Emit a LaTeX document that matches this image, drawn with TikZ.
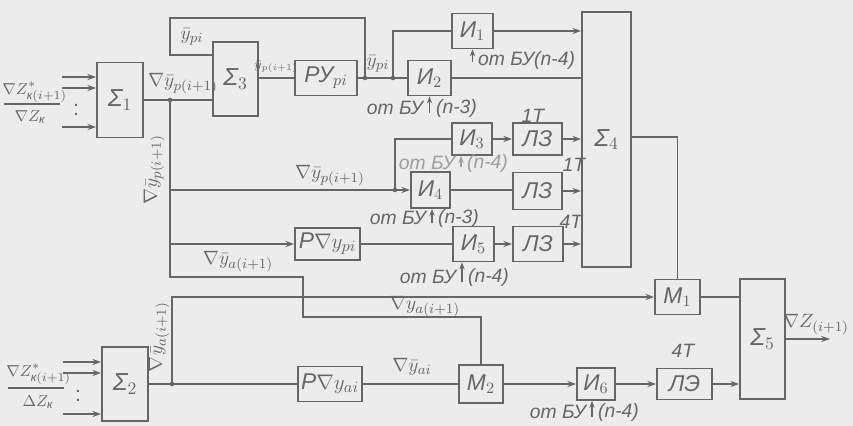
\documentclass[tikz,border=0pt]{standalone}
\usepackage{amsmath}
\usepackage{fontspec}
\setmainfont{Liberation Sans}
\usepackage{tikz}
\usetikzlibrary{arrows.meta}
\definecolor{ink}{gray}{0.40}
\definecolor{faintink}{gray}{0.62}
\definecolor{paper}{gray}{0.925}
\tikzset{
  unitbox/.style={draw=ink,line width=1pt,inner sep=0pt,text=ink,
    minimum width=0.82cm,minimum height=0.7cm,font=\fontsize{13}{14}\selectfont\itshape},
  delaybox/.style={unitbox,minimum width=0.98cm,minimum height=0.64cm},
  sumbox/.style={unitbox,minimum width=0.92cm,font=\fontsize{14}{15}\selectfont\itshape},
  signalline/.style={draw=ink,line width=0.9pt},
  signalarrow/.style={signalline,-{Stealth[length=5pt,width=3.5pt]}},
  controlarrow/.style={signalline,-{Stealth[length=4pt,width=3pt]}},
  blocklabel/.style={font=\fontsize{11}{12}\selectfont\itshape,text=ink,inner sep=1pt},
  inputlabel/.style={blocklabel,font=\fontsize{9.5}{10}\selectfont\itshape,inner sep=0pt},
  junction/.style={fill=ink}
}
\begin{document}
\begin{tikzpicture}[x=0.02cm,y=-0.02cm]
  \fill[paper] (0,0) rectangle (853,426);
  \useasboundingbox (0,0) rectangle (853,426);
  % upper chain
  \node[sumbox,minimum height=1.5cm] (s1) at (120,100) {Σ$_1$};
  \node[sumbox,minimum width=0.9cm,minimum height=1.48cm] (s3) at (235.5,79) {Σ$_3$};
  \node[unitbox,minimum width=1.24cm] (ry) at (326,78) {РУ$_{pi}$};
  \node[unitbox] (i1) at (472.5,31) {И$_1$};
  \node[unitbox,minimum width=0.86cm] (i2) at (429.5,78) {И$_2$};
  \node[sumbox,minimum width=0.98cm,minimum height=5.1cm] (s4) at (606.5,139.5) {Σ$_4$};
  \node[unitbox,minimum width=0.8cm,minimum height=0.64cm] (i3) at (472,139) {И$_3$};
  \node[delaybox] (lz1) at (537.5,139) {ЛЗ};
  \node[unitbox,minimum width=0.78cm,minimum height=0.72cm] (i4) at (430.5,190) {И$_4$};
  \node[delaybox,minimum height=0.74cm] (lz2) at (537.5,191) {ЛЗ};
  \node[unitbox,minimum width=1.3cm,minimum height=0.64cm] (pyp) at (327.5,244) {P$\nabla y_{pi}$};
  \node[unitbox] (i5) at (473.5,244) {И$_5$};
  \node[delaybox,minimum width=1cm,minimum height=0.7cm] (lz3) at (538,244) {ЛЗ};
  % lower chain
  \node[sumbox,minimum height=1.48cm] (s2) at (125,384) {Σ$_2$};
  \node[unitbox,minimum width=1.28cm] (pya) at (330,384) {P$\nabla y_{ai}$};
  \node[unitbox,minimum width=0.88cm,minimum height=0.76cm] (m2) at (481,384) {M$_2$};
  \node[unitbox,minimum width=0.76cm,minimum height=0.64cm] (i6) at (596,384) {И$_6$};
  \node[delaybox,minimum width=1.1cm,minimum height=0.62cm] (le) at (684.5,384) {ЛЭ};
  \node[unitbox,minimum width=0.9cm] (m1) at (677.5,297) {M$_1$};
  \node[sumbox,minimum width=0.9cm,minimum height=2.4cm] (s5) at (762.5,339) {Σ$_5$};

  % branch points and free ends
  \coordinate (j1) at (170,100);
  \coordinate (jf) at (365,78);
  \coordinate (j2) at (393,78);
  \coordinate (j3) at (170,190);
  \coordinate (j4) at (395,190);
  \coordinate (j5) at (170,244);
  \coordinate (j6) at (172,384);
  \coordinate (z1a) at (62,77);
  \coordinate (z1b) at (62,88);
  \coordinate (z1k) at (62,127);
  \coordinate (z2a) at (63,362);
  \coordinate (z2b) at (63,373);
  \coordinate (z2k) at (63,414);
  \coordinate (zout) at (830,339);
  \coordinate (bu1) at (472.5,62);
  \coordinate (bu2) at (429.5,113);
  \coordinate (bu3) at (461,167);
  \coordinate (bu4) at (432,223);
  \coordinate (bu5) at (462,282);
  \coordinate (bu6) at (592,417);

  % inputs
  \draw[signalarrow] (z1a) -- (s1.west |- z1a);
  \draw[signalarrow] (z1b) -- (s1.west |- z1b);
  \draw[signalarrow] (z1k) -- (s1.west |- z1k);
  \draw[signalarrow] (z2a) -- (s2.west |- z2a);
  \draw[signalarrow] (z2b) -- (s2.west |- z2b);
  \draw[signalarrow] (z2k) -- (s2.west |- z2k);

  % upper connections
  \draw[signalline] (s1.east) -- (s3.west |- s1.east);
  \draw[signalline] (jf) -- (365,18) -- (170,18) -- (170,55) -- (s3.west |- 0,55);
  \draw[signalline] (s3.east |- ry) -- (ry.west);
  \draw[signalline] (ry.east) -- (i2.west);
  \draw[signalline] (j2) |- (i1.west);
  \draw[signalarrow] (i1.east) -- (s4.west |- i1.east);
  \draw[signalline] (i2.east) -- (s4.west |- i2.east);
  \draw[signalline] (j1) -- (170,277) -| (303,317) -| (m2.north);
  \draw[signalarrow] (j3) -- (i4.west);
  \draw[signalline] (j4) |- (i3.west);
  \draw[signalline] (i4.east) -- (lz2.west |- i4.east);
  \draw[signalarrow] (i3.east) -- (lz1.west);
  \draw[signalarrow] (lz1.east) -- (s4.west |- lz1.east);
  \draw[signalarrow] (lz2.east) -- (s4.west |- lz2.east);
  \draw[signalarrow] (j5) -- (pyp.west);
  \draw[signalline] (pyp.east) -- (i5.west);
  \draw[signalarrow] (i5.east) -- (lz3.west);
  \draw[signalarrow] (lz3.east) -- (s4.west |- lz3.east);
  \draw[signalline] (s4.east |- 0,137) -| (m1.north);
  \draw[signalline] (m1.east) -- (s5.west |- m1.east);
  \draw[signalarrow] (s5.east) -- (zout);

  % lower connections
  \draw[signalline] (s2.east) -- (pya.west);
  \draw[signalarrow] (j6) |- (m1.west);
  \draw[signalline] (pya.east) -- (m2.west);
  \draw[signalarrow] (m2.east) -- (i6.west);
  \draw[signalarrow] (i6.east) -- (le.west);
  \draw[signalarrow] (le.east) -- (s5.west |- le.east);

  % control inputs from БУ
  \draw[controlarrow] (bu1) -- (i1.south);
  \draw[controlarrow] (bu2) -- (i2.south);
  \draw[controlarrow,draw=faintink] (bu3) -- (bu3 |- i3.south);
  \draw[controlarrow] (bu4) -- (bu4 |- i4.south);
  \draw[controlarrow] (bu5) -- (bu5 |- i5.south);
  \draw[controlarrow] (bu6) -- (bu6 |- i6.south);
  \foreach \j in {j1,j2,jf,j4,j6} \fill[junction] (\j) circle (1.3pt);

  % labels
  \node[blocklabel,anchor=west] (c1) at (476,60) {от БУ(n-4)};
  \node[blocklabel,anchor=east] (c2a) at (425,108) {от БУ};
  \node[blocklabel,anchor=west] (c2b) at (434,108) {(n-3)};
  \node[blocklabel,anchor=east,text=faintink] (c3a) at (457,163) {от БУ};
  \node[blocklabel,anchor=west,text=faintink] (c3b) at (465,163) {(n-4)};
  \node[blocklabel,anchor=east] (c4a) at (428,218) {от БУ};
  \node[blocklabel,anchor=west] (c4b) at (436,218) {(n-3)};
  \node[blocklabel,anchor=east] (c5a) at (458,277) {от БУ};
  \node[blocklabel,anchor=west] (c5b) at (466,277) {(n-4)};
  \node[blocklabel,anchor=east] (c6a) at (588,412) {от БУ};
  \node[blocklabel,anchor=west] (c6b) at (596,412) {(n-4)};
  \node[blocklabel] (d1) at (533,116) {1T};
  \node[blocklabel] (d2) at (574,165) {1T};
  \node[blocklabel] (d3) at (571,222) {4T};
  \node[blocklabel] (d4) at (683,351) {4T};
  \node[blocklabel] (ypi) at (192,37) {$\bar y_{pi}$};
  \node[blocklabel,font=\scriptsize] (ypn) at (276,67) {$\bar y_{p(i+1)}$};
  \node[blocklabel] (ypo) at (378,64) {$\bar y_{pi}$};
  \node[blocklabel] (dyp) at (183,84) {$\nabla\bar y_{p(i+1)}$};
  \node[blocklabel,rotate=90] (dypv) at (154,170) {$\nabla\bar y_{p(i+1)}$};
  \node[blocklabel] (dyph) at (330,176) {$\nabla\bar y_{p(i+1)}$};
  \node[blocklabel] (dya) at (238,262) {$\nabla\bar y_{a(i+1)}$};
  \node[blocklabel] (dyam) at (425,307) {$\nabla y_{a(i+1)}$};
  \node[blocklabel,rotate=90] (dyav) at (159,337) {$\nabla\bar y_{a(i+1)}$};
  \node[blocklabel] (dyai) at (412,367) {$\nabla\bar y_{ai}$};
  \node[blocklabel] (zl) at (816,325) {$\nabla Z_{(i+1)}$};
  \node[inputlabel,anchor=west] (zk1) at (2,92) {$\nabla Z^{*}_{\text{к}(i+1)}$};
  \node[inputlabel] (zk1b) at (30,117) {$\nabla Z_{\text{к}}$};
  \node[inputlabel,font=\fontsize{12}{12}\selectfont] (dots1) at (76,110) {:};
  \node[inputlabel,anchor=west] (zk2) at (6,374) {$\nabla Z^{*}_{\text{к}(i+1)}$};
  \node[inputlabel] (zk2b) at (38,402) {$\Delta Z_{\text{к}}$};
  \node[inputlabel,font=\fontsize{12}{12}\selectfont] (dots2) at (78,396) {:};
  \draw[signalline,line width=0.7pt] (4,104) -- (60,104);
  \draw[signalline,line width=0.7pt] (8,388) -- (64,388);
\end{tikzpicture}
\end{document}
